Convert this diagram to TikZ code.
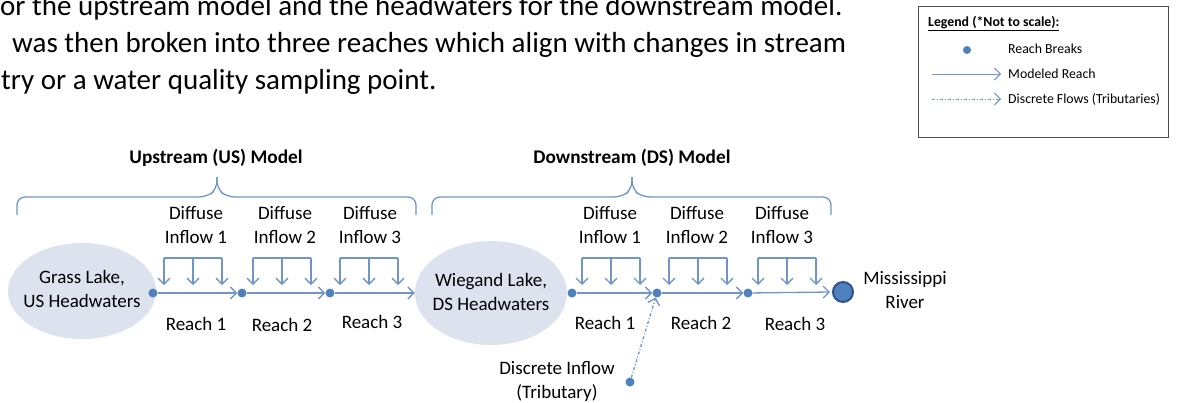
\documentclass[tikz,border=0pt]{standalone}
\usepackage{fontspec}
\setmainfont{Carlito}
\usetikzlibrary{arrows.meta,positioning,shapes.geometric}
\definecolor{brk}{HTML}{4F81BD}
\definecolor{flow}{HTML}{6F95CB}
\definecolor{lakefill}{HTML}{DCE3EF}
\definecolor{rivedge}{HTML}{2F528F}
\tikzset{
	lbl/.style={align=center,font=\fontsize{19}{24}\selectfont,inner sep=0pt},
	ttl/.style={font=\bfseries\fontsize{19.3}{22}\selectfont,inner sep=0pt},
	para/.style={anchor=base west,font=\fontsize{29}{35}\selectfont,inner sep=0pt},
	leg/.style={anchor=west,font=\fontsize{13.8}{16}\selectfont,inner sep=0pt},
	dot/.style={circle,fill=brk,inner sep=0pt,minimum size=9pt},
	lake/.style={ellipse,fill=lakefill,inner sep=0pt},
	rch/.style={draw=flow,line width=1.3pt,-{Straight Barb[length=6pt,width=12pt]}},
	trib/.style={rch,dash pattern=on 3pt off 2pt on 1pt off 2pt},
	inflow/.style={draw=flow,line width=1.3pt},
	brc/.style={draw=flow,line width=1.3pt,rounded corners=8pt},
	dif/.pic={
		\coordinate (-l) at (-29,0);
		\coordinate (-m) at (0,0);
		\coordinate (-r) at (29,0);
		\coordinate (-lb) at (-29,27);
		\coordinate (-mb) at (0,27);
		\coordinate (-rb) at (29,27);
		\draw[inflow] (-l) -- (-r);
		\draw[rch] (-l) -- (-lb);
		\draw[rch] (-m) -- (-mb);
		\draw[rch] (-r) -- (-rb);
	},
	model/.pic={
		\draw[brc] (-200,18) -- (-200,0) -- (-10,0) -- (0,-8) -- (0,-20);
		\draw[brc] (0,-20) -- (0,-8) -- (10,0) -- (199,0) -- (199,18);
	}
}

\begin{document}
\begin{tikzpicture}[x=1pt,y=-1pt]
	\useasboundingbox (0,0) rectangle (1183,402);
	\clip (0,0) rectangle (1183,402);

	% text above the figure
	\node[para] (p1) at (0,15) {or the upstream model and the headwaters for the downstream model.};
	\node[para] (p2) at (12,52) {was then broken into three reaches which align with changes in stream};
	\node[para] (p3) at (1,89) {try or a water quality sampling point.};

	% legend
	\node[draw=black!70,line width=0.6pt,minimum width=250pt,minimum height=131pt,inner sep=0pt] (legbox) at (1043,71.5) {};
	\node[leg,font=\bfseries\fontsize{13.8}{16}\selectfont] (legttl) at (928,24) {\underline{Legend (*Not to scale):}};
	\node[dot,minimum size=8pt] (legdot) at (967,50) {};
	\node[leg] (legbrk) at (1008,49) {Reach Breaks};
	\node[leg] (legrch) at (1008,74) {Modeled Reach};
	\node[leg] (legtrib) at (1008,99) {Discrete Flows (Tributaries)};
	\coordinate (la) at (932,74);
	\coordinate (lb) at (932,99);
	\draw[rch,line width=0.9pt] (la) -- ([xshift=-7pt]legrch.west);
	\draw[trib,line width=0.9pt] (lb) -- ([xshift=-7pt]legtrib.west);

	% model braces
	\node[ttl] (usttl) at (216,158) {Upstream (US) Model};
	\node[ttl] (dsttl) at (632,158) {Downstream (DS) Model};
	\pic (usb) at (217,197) {model};
	\pic (dsb) at (632,197) {model};

	% lakes
	\node[lake,minimum width=148pt,minimum height=96pt] (gl) at (82,291) {};
	\node[lbl] (gltxt) at (82,289) {Grass Lake,\\US Headwaters};
	\node[lake,minimum width=152pt,minimum height=104pt] (wl) at (491,293) {};
	\node[lbl] (wltxt) at (491,292) {Wiegand Lake,\\DS Headwaters};

	% reach breaks
	\node[dot] (u0) at (153,293) {};
	\node[dot] (u1) at (242,293) {};
	\node[dot] (u2) at (330,293) {};
	\node[dot] (d0) at (572,293) {};
	\node[dot] (d1) at (657,293) {};
	\node[dot] (d2) at (748,293) {};
	\node[circle,fill=brk,draw=rivedge,line width=2pt,minimum size=20pt,inner sep=0pt] (ms) at (843,292) {};
	\node[lbl] (mstxt) at (905,290) {Mississippi\\River};

	\draw[rch] (u0) -- (u1);
	\draw[rch] (u1) -- (u2);
	\draw[rch] (u2) -- (wl.west);
	\draw[rch] (d0) -- (d1);
	\draw[rch] (d1) -- (d2);
	\draw[rch] (d2) -- ([xshift=-2pt]ms.west);

	% diffuse inflows
	\pic (f1) at (193,258) {dif};
	\pic (f2) at (282,258) {dif};
	\pic (f3) at (369,258) {dif};
	\pic (f4) at (611,258) {dif};
	\pic (f5) at (698,258) {dif};
	\pic (f6) at (787,258) {dif};
	\node[lbl] (f1txt) at (196,225) {Diffuse\\Inflow 1};
	\node[lbl] (f2txt) at (285,225) {Diffuse\\Inflow 2};
	\node[lbl] (f3txt) at (370,225) {Diffuse\\Inflow 3};
	\node[lbl] (f4txt) at (610,225) {Diffuse\\Inflow 1};
	\node[lbl] (f5txt) at (697,225) {Diffuse\\Inflow 2};
	\node[lbl] (f6txt) at (782,225) {Diffuse\\Inflow 3};

	\node[lbl] (r1) at (196,324) {Reach 1};
	\node[lbl] (r2) at (282,325) {Reach 2};
	\node[lbl] (r3) at (372,322) {Reach 3};
	\node[lbl] (r4) at (605,323) {Reach 1};
	\node[lbl] (r5) at (701,323) {Reach 2};
	\node[lbl] (r6) at (795,324) {Reach 3};

	% tributary
	\node[dot] (di) at (630,382) {};
	\node[lbl] (ditxt) at (557,381) {Discrete Inflow\\(Tributary)};
	\draw[trib] (di) -- (d1);
\end{tikzpicture}
\end{document}
